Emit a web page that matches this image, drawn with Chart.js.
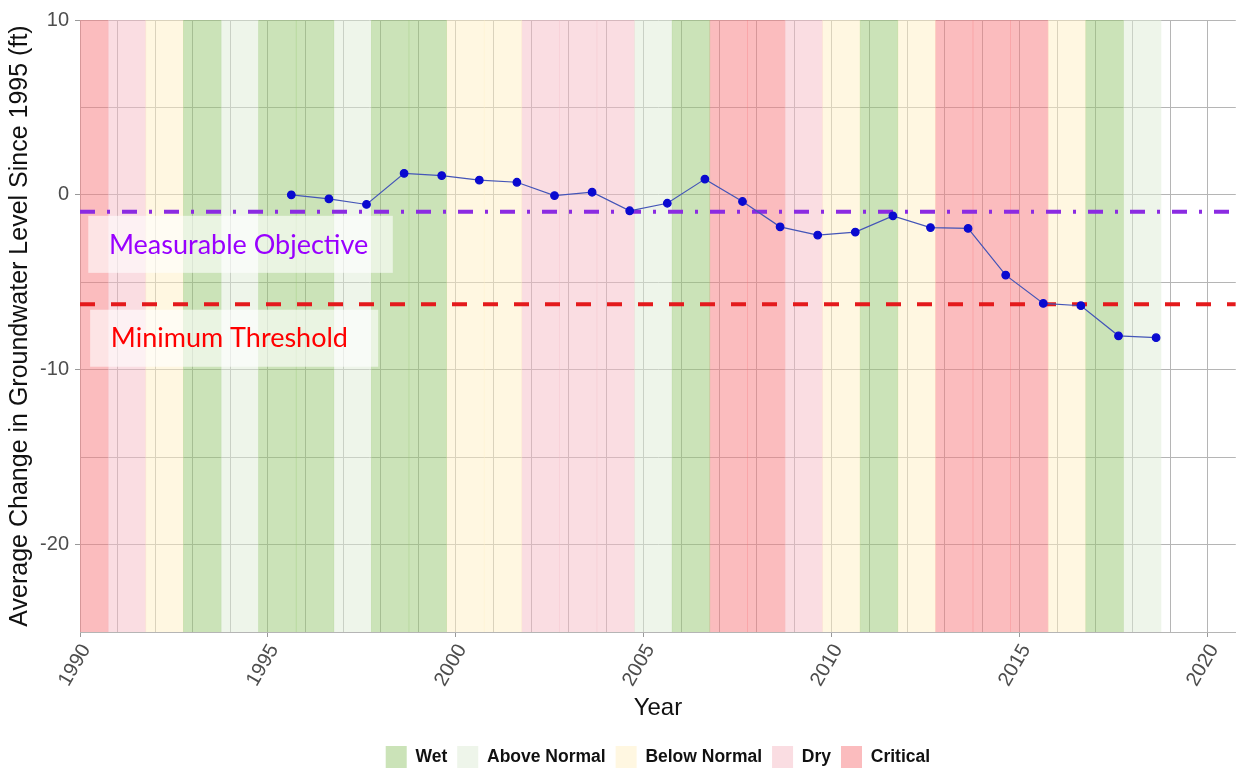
<!DOCTYPE html>
<html>
<head>
<meta charset="utf-8">
<script src="https://cdn.jsdelivr.net/npm/chart.js@4.4.0/dist/chart.umd.min.js"></script>
<style>
  html, body { margin: 0; padding: 0; background: #fff; overflow: hidden; }
  #wrap { width: 1241px; height: 768px; position: relative; }
</style>
</head>
<body>
<div id="wrap"><canvas id="chartCanvas"></canvas></div>
<script>
// water year types (band for WY runs Oct 1 of previous year to Sep 30)
const waterYears = [1990, 1991, 1992, 1993, 1994, 1995, 1996, 1997, 1998, 1999,
  2000, 2001, 2002, 2003, 2004, 2005, 2006, 2007, 2008, 2009,
  2010, 2011, 2012, 2013, 2014, 2015, 2016, 2017, 2018];
const yearTypes = ['Critical', 'Dry', 'Below Normal', 'Wet', 'Above Normal', 'Wet', 'Wet', 'Above Normal', 'Wet', 'Wet',
  'Below Normal', 'Below Normal', 'Dry', 'Dry', 'Dry', 'Above Normal', 'Wet', 'Critical', 'Critical', 'Dry',
  'Below Normal', 'Wet', 'Below Normal', 'Critical', 'Critical', 'Critical', 'Below Normal', 'Wet', 'Above Normal'];
const typeNames = ['Wet', 'Above Normal', 'Below Normal', 'Dry', 'Critical'];
const typeColors = ['rgba(151,199,113,0.5)', 'rgba(221,235,213,0.5)', 'rgba(255,239,195,0.5)',
  'rgba(245,187,197,0.5)', 'rgba(247,121,125,0.5)'];

// measurement dates (decimal year) and average change in groundwater level (ft)
const measureDates = [1995.62, 1996.62, 1997.62, 1998.62, 1999.62, 2000.62, 2001.62, 2002.62,
  2003.62, 2004.62, 2005.62, 2006.62, 2007.62, 2008.62, 2009.62, 2010.62,
  2011.62, 2012.62, 2013.62, 2014.62, 2015.62, 2016.62, 2017.62, 2018.62];
const levelChange = [0.0, -0.23, -0.55, 1.23, 1.1, 0.84, 0.72, -0.04,
  0.15, -0.91, -0.48, 0.9, -0.38, -1.83, -2.3, -2.13,
  -1.2, -1.87, -1.92, -4.59, -6.21, -6.34, -8.06, -8.17];

const measurableObjective = -0.97;
const minimumThreshold = -6.25;

const X_MIN = 1990, X_MAX = 2020.74;
const Y_MIN = -25, Y_MAX = 10;

const tickFont = { family: 'Liberation Sans, Arial', size: 20 };
const gridColor = '#b5b5b5';

// one bar dataset per year type, each bar spans the whole y range
const bandSets = typeNames.map((name, i) => ({
  type: 'bar',
  label: name,
  data: waterYears
    .filter((y, j) => yearTypes[j] === name)
    .map(y => ({ x: y + 0.25, y: [Y_MIN, Y_MAX] })),
  backgroundColor: typeColors[i],
  borderWidth: 0,
  barPercentage: 1,
  categoryPercentage: 1,
  grouped: false,
  order: 10
}));

const lineSets = [
  {
    type: 'line',
    label: 'Groundwater',
    data: measureDates.map((d, i) => ({ x: d, y: levelChange[i] })),
    borderColor: '#4455b8',
    borderWidth: 1.2,
    pointRadius: 3.8,
    pointBackgroundColor: '#0a0ad0',
    pointBorderColor: '#0a0ad0',
    tension: 0,
    order: 0
  },
  {
    type: 'line',
    label: 'Measurable Objective',
    data: [{ x: X_MIN, y: measurableObjective }, { x: X_MAX, y: measurableObjective }],
    borderColor: '#8b2be2',
    borderWidth: 4,
    borderDash: [15, 12, 3, 12],
    pointRadius: 0,
    order: 1
  },
  {
    type: 'line',
    label: 'Minimum Threshold',
    data: [{ x: X_MIN, y: minimumThreshold }, { x: X_MAX, y: minimumThreshold }],
    borderColor: '#e41a1c',
    borderWidth: 4,
    borderDash: [15, 16],
    pointRadius: 0,
    order: 1
  }
];

// labels for the two threshold lines, in data units
const notes = [
  { text: 'Measurable Objective', color: '#9900ff', x0: 1990.22, x1: 1998.32, y0: -1.2, y1: -4.46, tx: 1990.77, ty: -2.86 },
  { text: 'Minimum Threshold', color: '#ff0000', x0: 1990.27, x1: 1997.93, y0: -6.57, y1: -9.83, tx: 1990.82, ty: -8.23 }
];

const notePlugin = {
  id: 'notes',
  afterDatasetsDraw(chart) {
    const ctx = chart.ctx;
    const xs = chart.scales.x, ys = chart.scales.y;
    ctx.save();
    notes.forEach(n => {
      const l = xs.getPixelForValue(n.x0), r = xs.getPixelForValue(n.x1);
      const t = ys.getPixelForValue(n.y0), b = ys.getPixelForValue(n.y1);
      ctx.fillStyle = 'rgba(255,255,255,0.6)';
      ctx.fillRect(l, t, r - l, b - t);
      ctx.fillStyle = n.color;
      ctx.font = '27px Lato';
      ctx.textBaseline = 'middle';
      ctx.textAlign = 'left';
      ctx.fillText(n.text, xs.getPixelForValue(n.tx), ys.getPixelForValue(n.ty));
    });
    ctx.restore();
  }
};

const ctx = document.getElementById('chartCanvas').getContext('2d');
window.chart = new Chart(ctx, {
  data: { datasets: [...lineSets, ...bandSets] },
  options: {
    responsive: true,
    maintainAspectRatio: false,
    animation: false,
    layout: { padding: { top: 20, right: 0, left: 0, bottom: -10 } },
    plugins: {
      tooltip: { enabled: false },
      legend: {
        position: 'bottom',
        fullSize: false,
        labels: {
          filter: (item) => typeNames.includes(item.text),
          boxWidth: 21,
          boxHeight: 22,
          padding: 10,
          color: '#111',
          font: { family: 'Liberation Sans, Arial', size: 17.5, weight: 'bold' }
        }
      }
    },
    scales: {
      x: {
        type: 'linear',
        min: X_MIN,
        max: X_MAX,
        bounds: 'data',
        offset: false,
        afterFit: (s) => { s.height = 104; s.paddingRight = 0; s.paddingLeft = 0; },
        ticks: {
          stepSize: 1,
          autoSkip: false,
          includeBounds: false,
          minRotation: 60,
          maxRotation: 60,
          padding: 3,
          labelOffset: 6,
          color: '#4d4d4d',
          font: tickFont,
          callback: (v) => (v % 5 === 0 ? String(v) : '')
        },
        grid: {
          offset: false,
          color: gridColor,
          tickLength: 5,
          tickColor: (c) => (c.tick && c.tick.value % 5 === 0 ? '#999' : 'rgba(0,0,0,0)')
        },
        border: { color: gridColor },
        title: { display: true, text: 'Year', color: '#111', font: { family: 'Liberation Sans, Arial', size: 24 }, padding: { top: 0, bottom: 13 } }
      },
      y: {
        min: Y_MIN,
        max: Y_MAX,
        afterFit: (s) => { s.width = 80; },
        ticks: {
          stepSize: 5,
          padding: 6,
          color: '#4d4d4d',
          font: tickFont,
          callback: (v) => (v % 10 === 0 ? String(v) : '')
        },
        grid: {
          color: gridColor,
          tickLength: 5,
          tickColor: (c) => (c.tick && c.tick.value % 10 === 0 ? '#999' : 'rgba(0,0,0,0)')
        },
        border: { color: gridColor },
        title: {
          display: true,
          text: 'Average Change in Groundwater Level Since 1995 (ft)',
          color: '#111',
          font: { family: 'Liberation Sans, Arial', size: 25 },
          padding: { top: 5, bottom: 0 }
        }
      }
    }
  },
  plugins: [notePlugin]
});
</script>
</body>
</html>
